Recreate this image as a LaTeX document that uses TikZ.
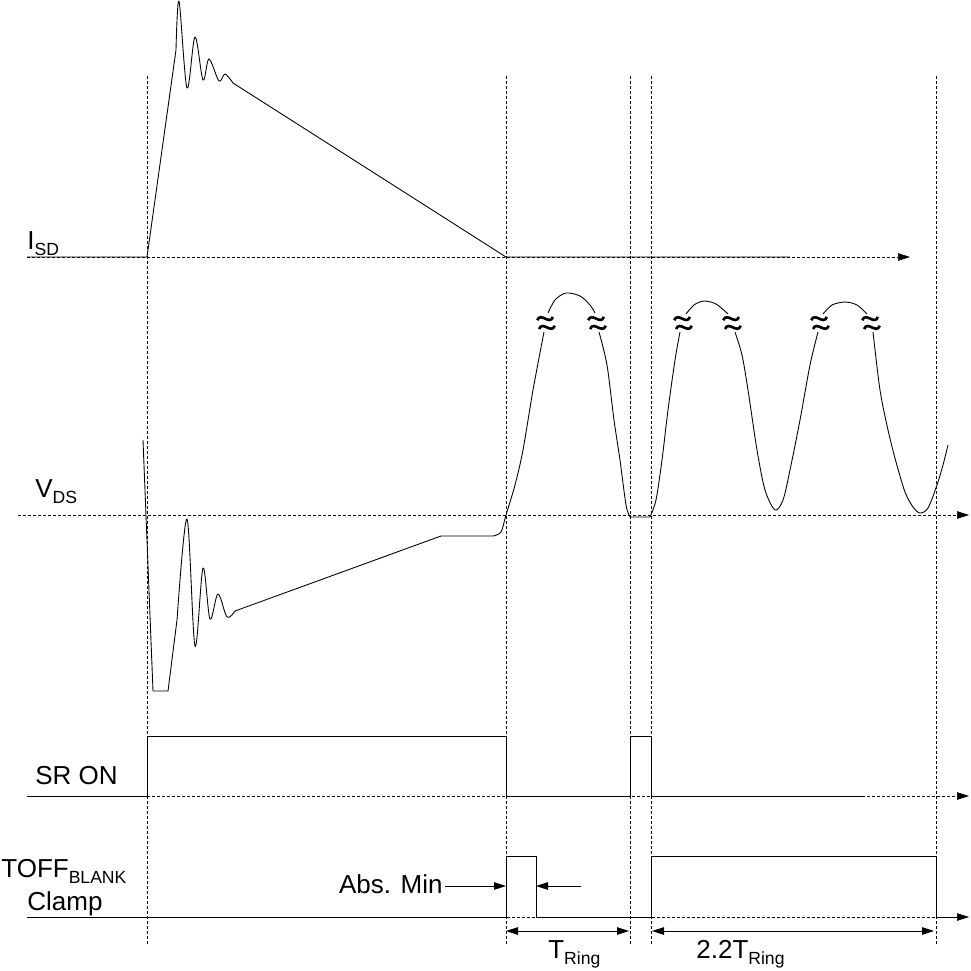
\documentclass[tikz,border=0pt]{standalone}
\usepackage{fontspec}
\setmainfont{Liberation Sans}
\usetikzlibrary{arrows.meta}
\newcommand\lowsub[1]{\raisebox{-0.45ex}{\fontsize{10}{12}\selectfont #1}}
\begin{document}
\begin{tikzpicture}[x=0.2mm, y=-0.2mm,
    >={Triangle[length=2.4mm,width=1.5mm]},
    guide/.style={line width=0.4pt, dash pattern=on 0.6mm off 0.4mm},
    wave/.style={line width=0.5pt, line join=round},
    lbl/.style={inner sep=0pt, font=\fontsize{14.8}{18}\selectfont},
    brk/.pic={\draw[line width=1.5pt, rotate=12]
        (-8,-4.5) .. controls (-3,-12.5) and (3,3.5) .. (8,-4.5)
        (-8,4.5) .. controls (-3,-3.5) and (3,12.5) .. (8,4.5);}]
    \useasboundingbox (0,0) rectangle (971,971);
    % guides and axes
    \foreach \x in {147,506,630,651,936}
        \draw[guide] (\x,76) -- (\x,946);
    \draw[guide, ->] (27,257) -- (910,257);
    \draw[guide, ->] (18,515) -- (969,515);
    \draw[guide, ->] (27,796) -- (969,796);
    \draw[guide, ->] (27,917) -- (969,917);
    % I_SD
    \draw[wave] (27,257) -- (147,257) -- (176,50)
        plot[smooth, tension=0.55] coordinates {(176,50) (179,1) (187,88) (195,37)
            (203,80) (209,59) (219,81) (225,74) (233,83)}
        -- (506,257) -- (790,257);
    % V_DS
    \draw[wave] (143,440) -- (153,691) -- (168,691) -- (177,620)
        plot[smooth, tension=0.55] coordinates {(177,620) (187,519) (195,646) (203,568)
            (210,619) (218,594) (227,617) (235,611)}
        -- (441,536) -- (493,536)
        plot[smooth] coordinates {(493,536) (501,532) (506,515) (515,485)
            (523,450) (533,390) (544,332)};
    \draw[wave] plot[smooth] coordinates {(548,313) (555,300) (566,293)
        (580,296) (590,305) (595,313)};
    \draw[wave] plot[smooth] coordinates {(599,332) (607,365) (614,420)
        (620,460) (626,505) (630,517)}
        -- (650,517)
        plot[smooth] coordinates {(650,517) (656,500) (662,460) (668,410)
            (675,360) (680,332)};
    \draw[wave] plot[smooth] coordinates {(686,314) (694,305) (704,301)
        (716,304) (728,314)};
    \draw[wave] plot[smooth] coordinates {(735,332) (742,355) (748,390)
        (757,450) (765,490) (775,510) (783,500) (790,470) (800,420)
        (810,365) (818,332)};
    \draw[wave] plot[smooth] coordinates {(823,314) (832,305) (845,302)
        (857,305) (867,314)};
    \draw[wave] plot[smooth] coordinates {(873,332) (880,390) (888,430)
        (896,462) (905,492) (913,507) (920,513) (928,508) (937,485)
        (943,465) (948,445)};
    \foreach \x in {546,597,683,732,820,871}
        \pic at (\x,323) {brk};
    % SR ON
    \draw[wave] (27,796) -- (147,796) -- (147,736) -- (506,736) -- (506,796)
        -- (630,796) -- (630,736) -- (651,736) -- (651,796) -- (865,796);
    % TOFF blank
    \draw[wave] (27,917) -- (506,917) -- (506,856) -- (536,856) -- (536,917)
        -- (651,917) -- (651,856) -- (936,856) -- (936,917) -- (960,917);
    % labels
    \node[lbl, anchor=base west] (isd) at (27,249) {I\lowsub{SD}};
    \node[lbl, anchor=base west] (vds) at (35,497) {V\lowsub{DS}};
    \node[lbl, anchor=base west] (sron) at (35,784) {SR ON};
    \node[lbl, anchor=base west] (toff) at (1,877) {TOFF\lowsub{BLANK}};
    \node[lbl, anchor=base west] (clamp) at (27,910) {Clamp};
    \node[lbl, anchor=base east] (absmin) at (443,893) {Abs. Min};
    \node[lbl, anchor=base west] (tring) at (548,958) {T\lowsub{Ring}};
    \node[lbl, anchor=base west] (tring2) at (696,958) {2.2T\lowsub{Ring}};
    % arrows
    \coordinate (ma) at (506,886);
    \coordinate (mb) at (536,886);
    \coordinate (mc) at (581,886);
    \draw[wave, ->] ([xshift=0.4mm]absmin.east |- ma) -- (ma);
    \draw[wave, ->] (mc) -- (mb);
    \draw[wave, <->] (506,931) -- (629,931);
    \draw[wave, <->] (652,931) -- (934,931);
\end{tikzpicture}
\end{document}
